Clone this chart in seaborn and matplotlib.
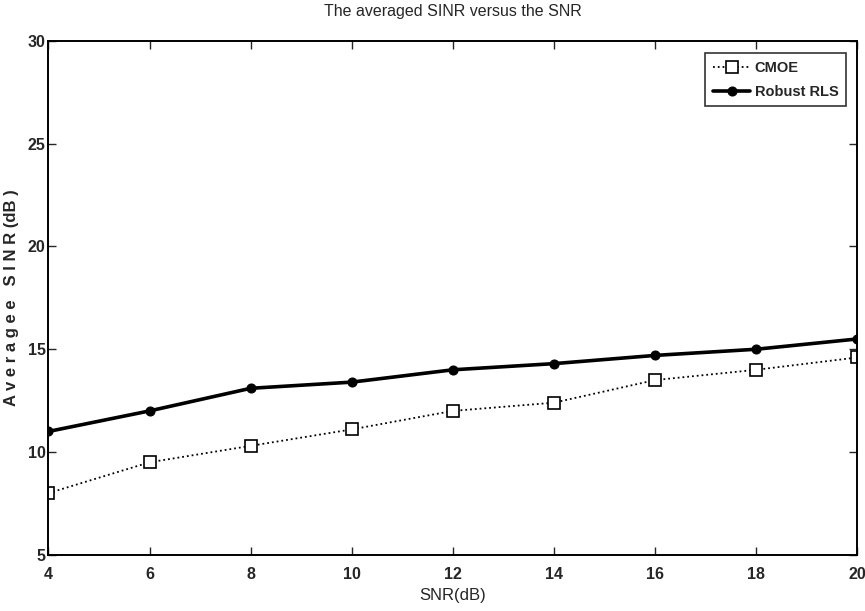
import pandas as pd
import matplotlib
matplotlib.use("Agg")
import matplotlib.pyplot as plt
import seaborn as sns

snr_db = [4, 6, 8, 10, 12, 14, 16, 18, 20]
cmoe = [8.0, 9.5, 10.3, 11.1, 12.0, 12.4, 13.5, 14.0, 14.6]
robust_rls = [11.0, 12.0, 13.1, 13.4, 14.0, 14.3, 14.7, 15.0, 15.5]

df = pd.DataFrame({"SNR": snr_db, "CMOE": cmoe, "Robust RLS": robust_rls})

sns.set_style("ticks")
plt.rcParams["font.family"] = ["Liberation Sans Narrow", "Liberation Sans", "DejaVu Sans"]

fig = plt.figure(figsize=(8.65, 6.11), dpi=100)
ax = fig.add_axes([0.056, 0.092, 0.935, 0.841])

sns.lineplot(data=df, x="SNR", y="CMOE", ax=ax, color="black", linestyle=":",
             linewidth=1.3, marker="s", markersize=8, markerfacecolor="white",
             markeredgecolor="black", markeredgewidth=1.2, label="CMOE")
sns.lineplot(data=df, x="SNR", y="Robust RLS", ax=ax, color="black", linestyle="-",
             linewidth=2.6, marker="o", markersize=6.5, markerfacecolor="black",
             markeredgecolor="black", label="Robust RLS")

ax.set_xlim(4, 20)
ax.set_ylim(5, 30)
ax.set_xticks(range(4, 21, 2))
ax.set_yticks(range(5, 31, 5))
ax.tick_params(direction="in", top=True, right=True, length=6, width=1,
               labelsize=11.5)
ax.tick_params(axis="x", pad=9)
ax.tick_params(axis="y", pad=2)
for lbl in ax.get_xticklabels() + ax.get_yticklabels():
    lbl.set_fontweight("bold")
for sp in ax.spines.values():
    sp.set_linewidth(1.4)
    sp.set_color("black")

ax.set_title("The averaged SINR versus the SNR", fontsize=11.5, pad=18)
ax.set_xlabel("SNR(dB)", fontsize=12, labelpad=4)
ax.set_ylabel("A v e r a g e e   S I N R (dB )", fontsize=12, fontweight="bold",
              labelpad=6)

leg = ax.legend(loc="upper right", fontsize=10.5, frameon=True, fancybox=False,
                edgecolor="black", handlelength=2.6, handletextpad=0.3,
                borderpad=0.5, labelspacing=0.7, bbox_to_anchor=(0.995, 0.99))
leg.get_frame().set_linewidth(1.2)
for t in leg.get_texts():
    t.set_fontweight("bold")

fig.savefig("out.png", dpi=100)
